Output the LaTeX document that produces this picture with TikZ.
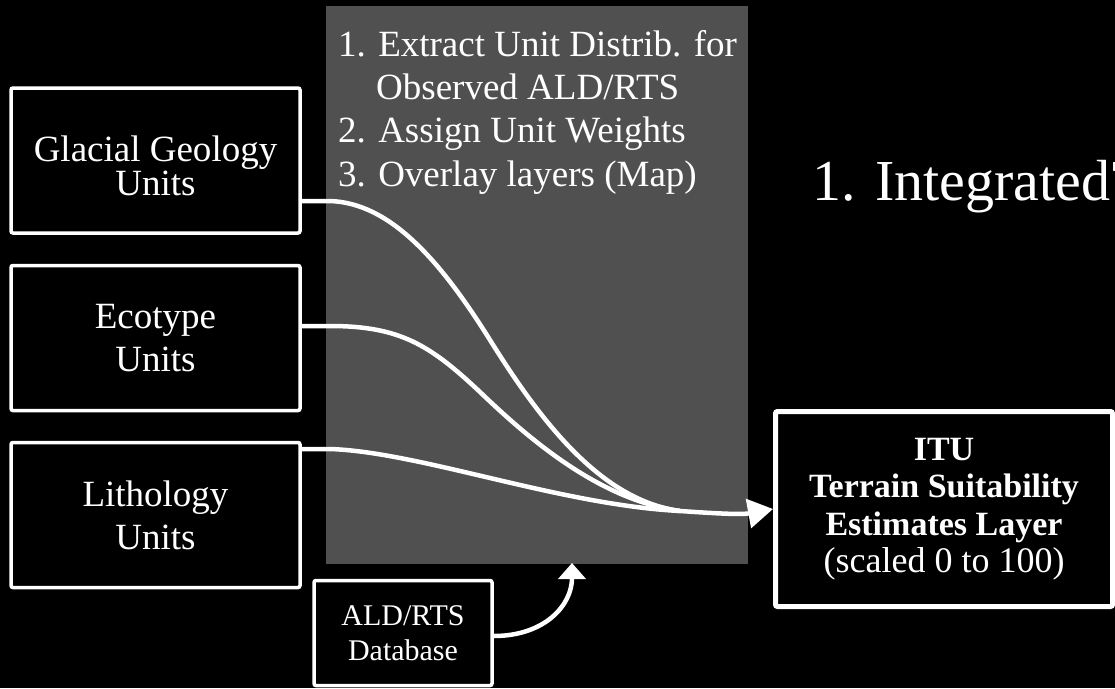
\documentclass[tikz,border=0pt]{standalone}
\usepackage{fontspec}
\setmainfont{Liberation Serif}
\usetikzlibrary{arrows.meta}
\definecolor{panelgray}{HTML}{505050}
\begin{document}
\begin{tikzpicture}[x=1pt,y=-1pt,
  unitbox/.style={draw=white,line width=3.5pt,rounded corners=2pt,fill=black,text=white,align=center,minimum width=289pt,minimum height=145pt,inner sep=0pt,font=\fontsize{37}{43}\selectfont},
  flow/.style={draw=white,line width=4.5pt},
  bigtip/.style={-{Triangle[length=25pt,width=29pt]}},
  smalltip/.style={-{Triangle[length=16pt,width=27pt]}}]
\useasboundingbox (0,0) rectangle (1115,688);
\fill[black] (0,0) rectangle (1115,688);
% panel
\fill[panelgray] (326,6) rectangle (748,564);
\node[anchor=base west,text=white,align=left,inner sep=0pt,font=\fontsize{37}{43.3}\selectfont] (steps) at (338,186)
 {1. Extract Unit Distrib. for\\\hspace*{38pt}Observed ALD/RTS\\2. Assign Unit Weights\\3. Overlay layers (Map)};
% title
\node[anchor=base west,text=white,inner sep=0pt,font=\fontsize{58}{60}\selectfont] (title) at (812,200) {1. Integrated\kern2pt Terrain};
% input boxes
\node[unitbox,font=\fontsize{37}{34}\selectfont] (glac) at (155.5,160.5) {\rule{0pt}{36pt}Glacial Geology\\Units};
\node[unitbox] (eco) at (155.5,338) {Ecotype\\Units};
\node[unitbox] (lith) at (155.5,515) {Lithology\\Units};
\node[unitbox,minimum width=178pt,minimum height=105pt,font=\fontsize{30}{35}\selectfont] (ald) at (403,633) {ALD/RTS\\Database};
% output box
\node[draw=white,line width=5pt,rounded corners=2pt,fill=black,text=white,align=center,minimum width=337pt,minimum height=195pt,inner sep=0pt,font=\fontsize{34}{37.5}\selectfont] (itu) at (944,509)
 {\textbf{ITU}\\\textbf{Terrain Suitability}\\\textbf{Estimates Layer}\\{\fontsize{36}{37.5}\selectfont(scaled 0 to 100)}};
% connectors
\coordinate (join) at (680,511);
\draw[flow] (glac.east |- 0,201) -- (330,201) .. controls (390,203) and (440,260) .. (490,340)
  .. controls (540,420) and (600,500) .. (join);
\draw[flow] (eco.east |- 0,326) -- (330,326) .. controls (400,326) and (430,345) .. (480,392)
  .. controls (530,440) and (600,500) .. (join);
\draw[flow] (lith.east |- 0,449) -- (330,449) .. controls (420,452) and (560,505) .. (join);
\draw[flow,bigtip] (join) .. controls (710,513) and (740,515) .. (itu.west);
\draw[flow,smalltip] (ald.east |- 0,636) .. controls (545,636) and (572,605) .. (572,563);
\end{tikzpicture}
\end{document}
